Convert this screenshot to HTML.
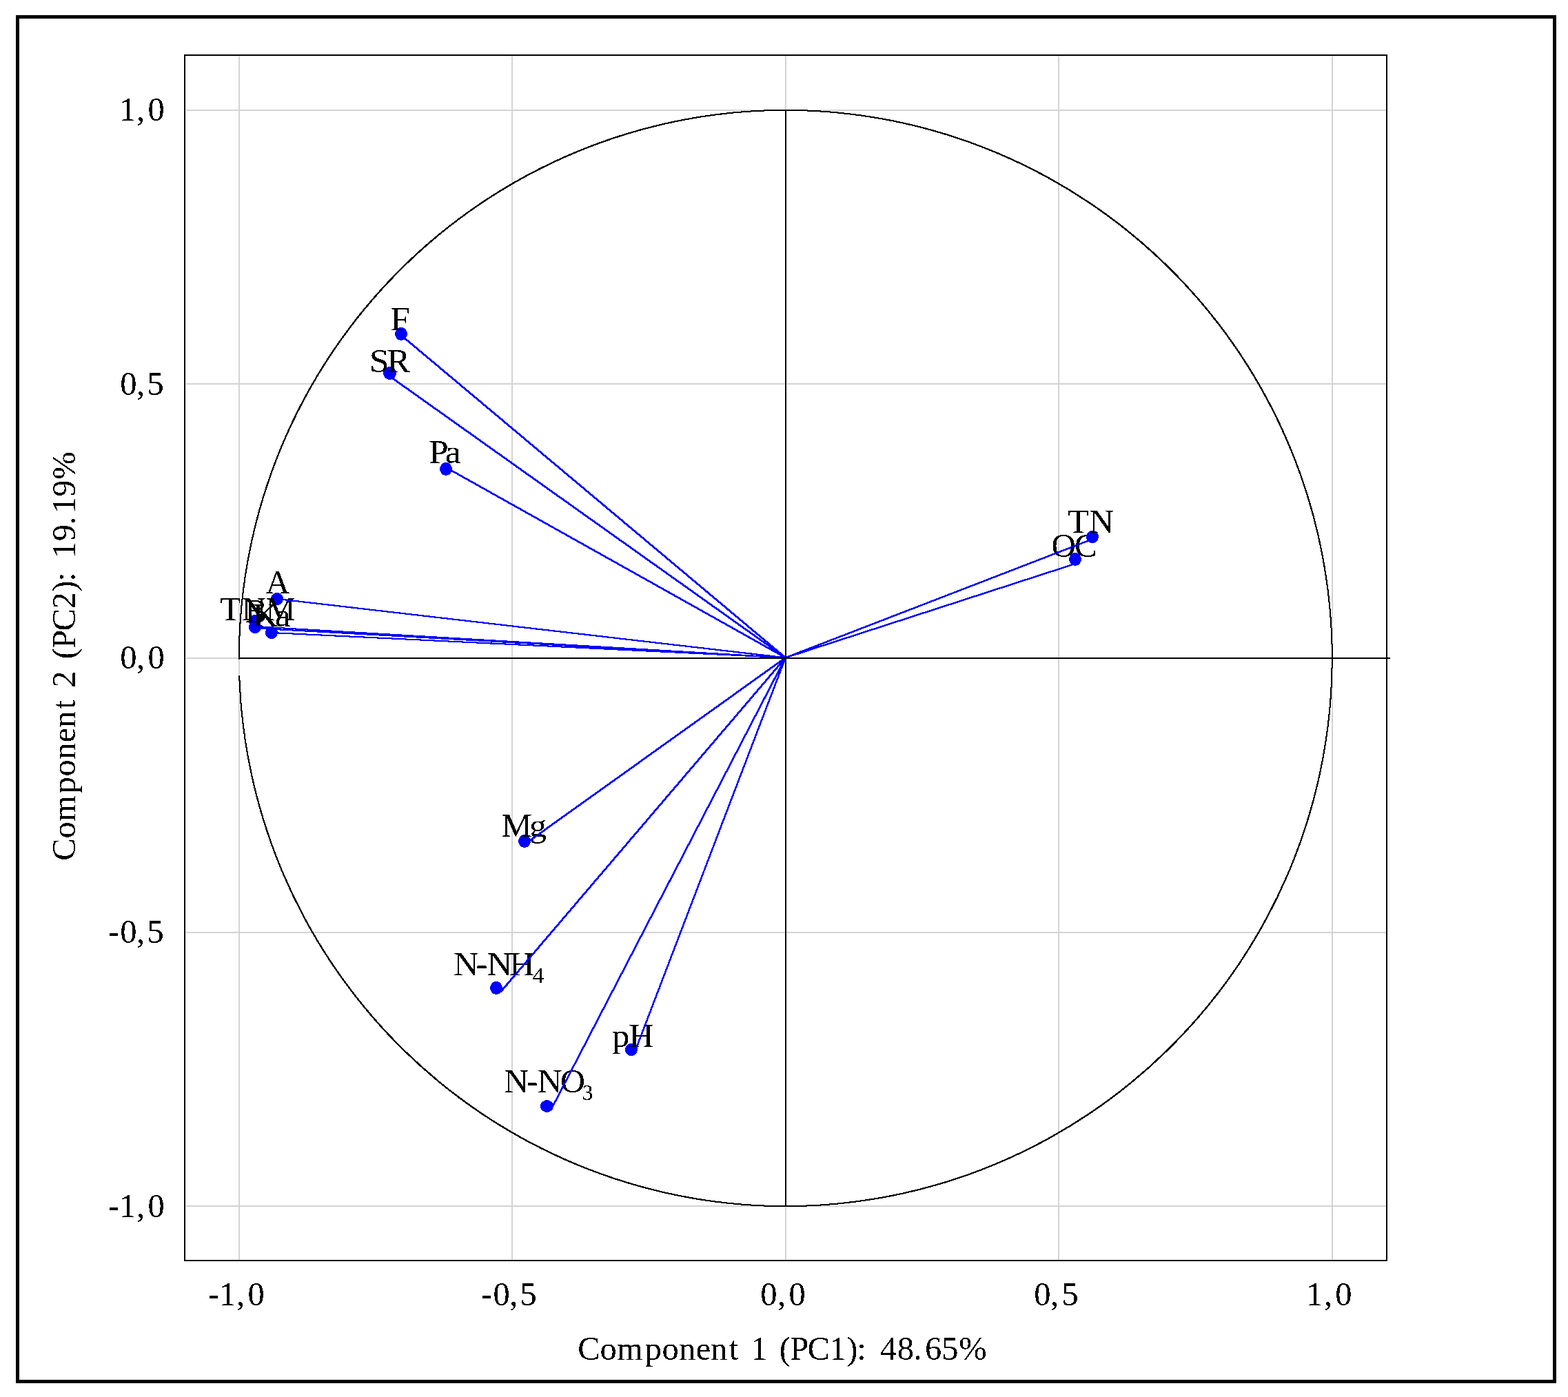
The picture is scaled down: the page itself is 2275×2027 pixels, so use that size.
<!DOCTYPE html>
<html lang="en"><head><meta charset="utf-8">
<title>PCA loading plot: Component 1 (PC1) vs Component 2 (PC2)</title>
<style>
html,body{margin:0;padding:0;background:#fff;}
body{width:2275px;height:2027px;overflow:hidden;}
svg{display:block;}
text{font-family:"Liberation Serif", "DejaVu Serif", serif;fill:#000;white-space:pre;}
.grid{stroke:#d3d3d3;stroke-width:2;fill:none;}
.ax{stroke:#000;stroke-width:2;fill:none;}
.pt,.vecp{fill:#00f;stroke:none;}
</style></head><body>
<svg width="2275" height="2027" viewBox="0 0 2275 2027" shape-rendering="crispEdges">
<defs><filter id="bw" filterUnits="userSpaceOnUse" x="0" y="0" width="2275" height="2027" color-interpolation-filters="sRGB"><feComponentTransfer><feFuncA type="discrete" tableValues="0 1"/></feComponentTransfer></filter></defs>
<rect x="0" y="0" width="2275" height="2027" fill="#fff"/>
<rect x="25.5" y="24.5" width="2230" height="1980" fill="none" stroke="#000" stroke-width="5"/>
<g class="grid">
<line x1="347" y1="81" x2="347" y2="1828"/>
<line x1="743" y1="81" x2="743" y2="1828"/>
<line x1="1140" y1="81" x2="1140" y2="1828"/>
<line x1="1536" y1="81" x2="1536" y2="1828"/>
<line x1="1933" y1="81" x2="1933" y2="1828"/>
<line x1="270" y1="160" x2="2011" y2="160"/>
<line x1="270" y1="557" x2="2011" y2="557"/>
<line x1="270" y1="955" x2="2011" y2="955"/>
<line x1="270" y1="1353" x2="2011" y2="1353"/>
<line x1="270" y1="1750" x2="2011" y2="1750"/>
</g>
<rect class="ax" x="268" y="80" width="1744" height="1749"/>
<path d="M 1139.8 158.8 A 794 796.2 0 0 1 1933.8 955 A 794 796.2 0 0 1 1139.8 1751.2 A 794 796.2 0 0 1 345.8 955 A 794 796.2 0 0 1 1139.8 158.8 Z M 1139.8 160.801 A 793 795.2 0 0 1 1931.799 955 A 793 795.2 0 0 1 1139.8 1749.199 A 793 795.2 0 0 1 347.801 955 A 793 795.2 0 0 1 1139.8 160.801 Z" fill="#000" fill-rule="evenodd" stroke="none"/>
<rect x="343" y="957" width="10" height="23" fill="#fff"/>
<rect x="346" y="958" width="2" height="21" fill="#d3d3d3"/>
<g id="points-labels">
<ellipse class="pt" cx="1560" cy="811.5" rx="9" ry="9.5"/>
<g filter="url(#bw)"><text transform="scale(1.008,1)" x="1513.29 1546.67" y="808.5" font-size="48.5">OC</text></g>
<ellipse class="pt" cx="1585" cy="779" rx="9" ry="9"/>
<g filter="url(#bw)"><text transform="scale(1.03,1)" x="1504.04 1534.29" y="773.2" font-size="48.5">TN</text></g>
<ellipse class="pt" cx="582" cy="484.5" rx="9" ry="9.5"/>
<g filter="url(#bw)"><text transform="scale(1.062,1)" x="533.35" y="479" font-size="48.5">F</text></g>
<ellipse class="pt" cx="565.5" cy="541.5" rx="9.5" ry="9.5"/>
<g filter="url(#bw)"><text transform="scale(1.058,1)" x="506.67 530.37" y="540.5" font-size="48.5">SR</text></g>
<ellipse class="pt" cx="647" cy="680.5" rx="9" ry="9.5"/>
<g filter="url(#bw)"><text transform="scale(1.077,1)" x="577.22 599.67" y="672" font-size="48.5">Pa</text></g>
<ellipse class="pt" cx="402" cy="869" rx="9" ry="9"/>
<g filter="url(#bw)"><text transform="scale(1.0,1)" x="385.38" y="861" font-size="48.5">A</text></g>
<ellipse class="pt" cx="370" cy="901" rx="9" ry="9"/>
<g filter="url(#bw)"><text transform="scale(1.006,1)" x="317.56 348.6 382.92" y="900" font-size="48.5">TNM</text></g>
<ellipse class="pt" cx="370" cy="910" rx="9" ry="9"/>
<g filter="url(#bw)"><text transform="scale(1.0,1)" x="355.31" y="902.5" font-size="48.5">B</text></g>
<ellipse class="pt" cx="394" cy="918" rx="9" ry="9"/>
<g filter="url(#bw)"><text transform="scale(1.044,1)" x="351.24 382.25" y="908.75" font-size="48.5">Ka</text></g>
<ellipse class="pt" cx="761" cy="1220.5" rx="9" ry="9.5"/>
<g filter="url(#bw)"><text transform="scale(1.033,1)" x="704.39 743.39" y="1214" font-size="48.5">Mg</text></g>
<ellipse class="pt" cx="720" cy="1433.5" rx="9" ry="9.5"/>
<g filter="url(#bw)"><text transform="scale(1.054,1)" x="624.09 655.14 670.39 700.91" y="1415.1" font-size="48.5">N-NH<tspan x="733" y="1425.9" font-size="31.5">4</tspan></text></g>
<ellipse class="pt" cx="916" cy="1523" rx="9" ry="9"/>
<g filter="url(#bw)"><text transform="scale(1.056,1)" x="840.61 863.61" y="1518.8" font-size="48.5">pH</text></g>
<ellipse class="pt" cx="793.5" cy="1605" rx="9.5" ry="9"/>
<g filter="url(#bw)"><text transform="scale(1.027,1)" x="711.99 743.75 759.22 791.64" y="1585.1" font-size="48.5">N-NO<tspan x="822.32" y="1596" font-size="31.5">3</tspan></text></g>
</g>
<g id="vectors">
<polygon class="vecp" points="1138.7,953.3 1560.9,816.37 1562.9,816.37 1562.9,818.37 1140.7,955.3 1138.7,955.3"/>
<polygon class="vecp" points="1138.7,953.3 1585.1,780.86 1587.1,780.86 1587.1,782.86 1140.7,955.3 1138.7,955.3"/>
<polygon class="vecp" points="580.05,484.63 582.05,484.63 1140.7,953.3 1140.7,955.3 1138.7,955.3 580.05,486.63"/>
<polygon class="vecp" points="562.37,543.49 564.37,543.49 1140.7,953.3 1140.7,955.3 1138.7,955.3 562.37,545.49"/>
<polygon class="vecp" points="646.96,677.79 648.96,677.79 1140.7,953.3 1140.7,955.3 1138.7,955.3 646.96,679.79"/>
<polygon class="vecp" points="401,867.96 403,867.96 1140.7,953.3 1140.7,955.3 1138.7,955.3 401,869.96"/>
<polygon class="vecp" points="368.53,908 370.53,908 1140.7,953.3 1140.7,955.3 1138.7,955.3 368.53,910"/>
<polygon class="vecp" points="368.92,910.44 370.92,910.44 1140.7,953.3 1140.7,955.3 1138.7,955.3 368.92,912.44"/>
<polygon class="vecp" points="393,917.01 395,917.01 1140.7,953.3 1140.7,955.3 1138.7,955.3 393,919.01"/>
<polygon class="vecp" points="762.22,1222.6 1138.7,953.3 1140.7,953.3 1140.7,955.3 764.22,1224.6 762.22,1224.6"/>
<polygon class="vecp" points="725.52,1438.05 1138.7,953.3 1140.7,953.3 1140.7,955.3 727.52,1440.05 725.52,1440.05"/>
<polygon class="vecp" points="920.53,1524.12 1138.7,953.3 1140.7,953.3 1140.7,955.3 922.53,1526.12 920.53,1526.12"/>
<polygon class="vecp" points="799.3,1607.53 1138.7,953.3 1140.7,953.3 1140.7,955.3 801.3,1609.53 799.3,1609.53"/>
</g>
<line class="ax" x1="346" y1="955" x2="2017" y2="955"/>
<line class="ax" x1="1140" y1="159" x2="1140" y2="1751"/>
<g id="yticks" filter="url(#bw)">
<text x="172.7 198.04 214.47" y="175" font-size="48.5">1,0</text>
<text x="174.32 198.04 213.46" y="573" font-size="48.5">0,5</text>
<text x="174.32 198.04 214.47" y="970" font-size="48.5">0,0</text>
<text x="156.9 174.32 198.04 213.46" y="1368" font-size="48.5">-0,5</text>
<text x="156.9 172.7 198.04 214.47" y="1766" font-size="48.5">-1,0</text>
</g>
<g id="xticks" filter="url(#bw)">
<text x="301.95 317.65 342.94 359.48" y="1894" font-size="48.5">-1,0</text>
<text x="697.95 715.42 739.14 754.46" y="1894" font-size="48.5">-0,5</text>
<text x="1103.22 1128.04 1144.42" y="1894" font-size="48.5">0,0</text>
<text x="1500.22 1524.04 1540.51" y="1894" font-size="48.5">0,5</text>
<text x="1894.75 1921.09 1937.33" y="1894" font-size="48.5">1,0</text>
</g>
<g id="xtitle" filter="url(#bw)"><text x="838.27 870.53 895.01 935.68 960.62 985.04 1009.63 1030.94 1057.92 1071.39 1089.15 1113.4 1130.79 1146.34 1171.52 1203.5 1228.16 1243.36 1256.83 1276.93 1301.67 1325.39 1342.11 1366.21 1391.15" y="1973.3" font-size="48.5">Component 1 (PC1): 48.65%</text></g>
<g id="ytitle" filter="url(#bw)"><text transform="rotate(-90)" x="-1248.73 -1216.47 -1191.99 -1151.32 -1126.38 -1101.96 -1077.37 -1056.06 -1029.08 -1015.61 -997.85 -973.6 -956.21 -940.66 -915.48 -883.5 -858.84 -843.64 -830.17 -810.07 -785.33 -761.61 -744.89 -720.79 -695.85" y="109.3" font-size="48.5">Component 2 (PC2): 19.19%</text></g>
</svg>
</body></html>
